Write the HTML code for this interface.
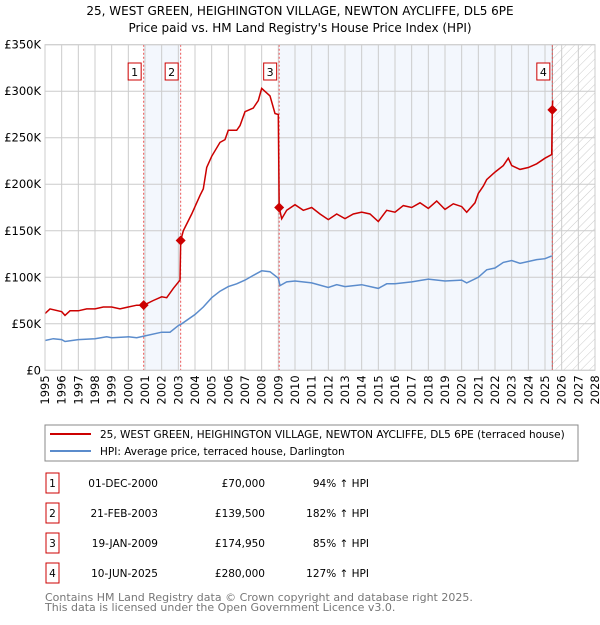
<!DOCTYPE html>
<html><head><meta charset="utf-8"><style>
body{margin:0;background:#fff;font-family:"Liberation Sans","DejaVu Sans",sans-serif;}
svg text{font-family:"DejaVu Sans","Liberation Sans",sans-serif;}
</style></head><body>
<svg id="c" width="600" height="620" xmlns="http://www.w3.org/2000/svg">
<defs><pattern id="hatch" width="6" height="6" patternUnits="userSpaceOnUse" patternTransform="rotate(45)"><line x1="0" y1="0" x2="0" y2="6" stroke="#ccc" stroke-width="1"/></pattern></defs>
<text x="300" y="15" text-anchor="middle" font-size="12">25, WEST GREEN, HEIGHINGTON VILLAGE, NEWTON AYCLIFFE, DL5 6PE</text>
<text x="300" y="32" text-anchor="middle" font-size="12">Price paid vs. HM Land Registry's House Price Index (HPI)</text>
<g id="plot"></g>
<rect x="45" y="425" width="533" height="36" fill="none" stroke="#888"/>
<line x1="50" y1="434" x2="91" y2="434" stroke="#cc0000" stroke-width="2"/>
<text x="100" y="438" font-size="10.5">25, WEST GREEN, HEIGHINGTON VILLAGE, NEWTON AYCLIFFE, DL5 6PE (terraced house)</text>
<line x1="50" y1="451" x2="91" y2="451" stroke="#5b8ccc" stroke-width="2"/>
<text x="100" y="455" font-size="10.5">HPI: Average price, terraced house, Darlington</text>
<g id="table" font-size="10.5"></g>
<text x="45" y="601" font-size="11" fill="#777">Contains HM Land Registry data © Crown copyright and database right 2025.</text>
<text x="45" y="611" font-size="11" fill="#777">This data is licensed under the Open Government Licence v3.0.</text>
</svg>
<script>
const yTicks=[0,50,100,150,200,250,300,350];
const yTickLabels=["£0","£50K","£100K","£150K","£200K","£250K","£300K","£350K"];
const years=[1995,1996,1997,1998,1999,2000,2001,2002,2003,2004,2005,2006,2007,2008,2009,2010,2011,2012,2013,2014,2015,2016,2017,2018,2019,2020,2021,2022,2023,2024,2025,2026,2027,2028];
const saleT=[2000.92,2003.14,2009.05,2025.44];
const saleV=[70,139.5,174.95,280];
const saleLabels=["1","2","3","4"];
const saleDates=["01-DEC-2000","21-FEB-2003","19-JAN-2009","10-JUN-2025"];
const salePrices=["£70,000","£139,500","£174,950","£280,000"];
const saleHpi=["94% ↑ HPI","182% ↑ HPI","85% ↑ HPI","127% ↑ HPI"];
const priceT=[1995,1995.3,1996,1996.2,1996.5,1997,1997.5,1998,1998.5,1999,1999.5,2000,2000.5,2000.92,2001.5,2002,2002.3,2002.7,2003.1,2003.14,2003.3,2003.8,2004.3,2004.5,2004.7,2005,2005.5,2005.8,2006,2006.5,2006.7,2007,2007.5,2007.8,2008,2008.5,2008.8,2009.0,2009.05,2009.2,2009.5,2010,2010.5,2011,2011.5,2012,2012.5,2013,2013.5,2014,2014.5,2015,2015.5,2016,2016.5,2017,2017.5,2018,2018.5,2019,2019.5,2020,2020.3,2020.8,2021,2021.3,2021.5,2022,2022.5,2022.8,2023,2023.5,2024,2024.5,2025,2025.4,2025.44,2025.46];
const priceV=[61,66,63,59,64,64,66,66,68,68,66,68,70,70,75,79,78,88,97,139.5,150,168,188,195,218,230,245,248,258,258,263,278,282,290,303,295,276,275,175,163,172,178,172,175,168,162,168,163,168,170,168,160,172,170,177,175,180,174,182,173,179,176,170,180,190,198,205,213,220,228,220,216,218,222,228,232,280,290];
const hpiT=[1995,1995.5,1996,1996.2,1997,1998,1998.7,1999,2000,2000.5,2001,2002,2002.5,2003,2003.2,2004,2004.5,2005,2005.5,2006,2006.5,2007,2007.5,2008,2008.5,2009,2009.1,2009.5,2010,2011,2012,2012.5,2013,2014,2015,2015.5,2016,2017,2018,2019,2020,2020.3,2021,2021.5,2022,2022.5,2023,2023.5,2024,2024.5,2025,2025.4];
const hpiV=[32,34,33,31,33,34,36,35,36,35,37,41,41,48,50,60,68,78,85,90,93,97,102,107,106,99,91,95,96,94,89,92,90,92,88,93,93,95,98,96,97,94,100,108,110,116,118,115,117,119,120,123];

const L=45,R=595,T=44.7,B=370.3;
const X=t=>L+(t-1995)/(2028-1995)*(R-L);
const Y=v=>B-v/350*(B-T);
const NS="http://www.w3.org/2000/svg";
const plot=document.getElementById('plot');
function mk(tag,attrs,parent){const e=document.createElementNS(NS,tag);for(const k in attrs)e.setAttribute(k,attrs[k]);(parent||plot).appendChild(e);return e;}
let e;
e=mk('rect',{x:X(saleT[0]),y:T,width:X(saleT[1])-X(saleT[0]),height:B-T,fill:'#eef3fc',opacity:0.7});


e=mk('rect',{x:X(saleT[2]),y:T,width:X(saleT[3])-X(saleT[2]),height:B-T,fill:'#eef3fc',opacity:0.7});


e=mk('rect',{x:X(saleT[3]),y:T,width:R-X(saleT[3]),height:B-T,fill:'url(#hatch)'});


years.forEach(y=>{
 e=mk('line',{x1:X(y),x2:X(y),y1:T,y2:B,stroke:'#ccc','stroke-width':1});
 
 
 const tx=X(y)+4,ty=B+5;
 e=mk('text',{x:tx,y:ty,transform:`rotate(-90 ${tx} ${ty})`,'text-anchor':'end','font-size':11.5});
 e.textContent=y;
 
 
});
yTicks.forEach((v,i)=>{
 e=mk('line',{x1:L,x2:R,y1:Y(v),y2:Y(v),stroke:'#ccc','stroke-width':1});
 
 
 e=mk('text',{x:L-4,y:Y(v)+4,'text-anchor':'end','font-size':11.5});
 e.textContent=yTickLabels[i];
 
 
});
e=mk('line',{x1:X(saleT[3]),x2:X(saleT[3]),y1:T,y2:B,stroke:'#888','stroke-width':1});


saleT.forEach((t,i)=>{
 e=mk('line',{x1:X(t),x2:X(t),y1:T,y2:B,stroke:'#e55','stroke-width':1,'stroke-dasharray':'2,2'});
 
 
});
const path=(ts,vs)=>ts.map((t,i)=>(i?'L':'M')+X(t).toFixed(1)+','+Y(vs[i]).toFixed(1)).join('');
e=mk('path',{d:path(hpiT,hpiV),fill:'none',stroke:'#5b8ccc','stroke-width':1.5});


e=mk('path',{d:path(priceT,priceV),fill:'none',stroke:'#cc0000','stroke-width':1.5});


saleT.forEach((t,i)=>{
 const cx=X(t),cy=Y(saleV[i]);
 e=mk('path',{d:`M${cx-5},${cy}L${cx},${cy-5}L${cx+5},${cy}L${cx},${cy+5}Z`,fill:'#cc0000'});
 
 
 const bx=cx-14.5,by=63;
 e=mk('rect',{x:bx-1,y:by,width:13,height:17,fill:'#fff',stroke:'#cc0000'});
 
 
 e=mk('text',{x:bx+5.5,y:by+13,'text-anchor':'middle','font-size':11});
 e.textContent=saleLabels[i];
 
 
});
e=mk('rect',{x:L,y:T,width:R-L,height:B-T,fill:'none',stroke:'#ccc'});


const tbl=document.getElementById('table');
saleT.forEach((t,i)=>{
 const cy=483+i*30;
 e=mk('rect',{x:46,y:cy-10,width:13,height:20,fill:'#fff',stroke:'#cc0000'},tbl);
 
 
 e=mk('text',{x:52.5,y:cy+4,'text-anchor':'middle'},tbl);e.textContent=saleLabels[i];
 
 
 e=mk('text',{x:158,y:cy+4,'text-anchor':'end'},tbl);e.textContent=saleDates[i];
 
 
 e=mk('text',{x:265,y:cy+4,'text-anchor':'end'},tbl);e.textContent=salePrices[i];
 
 
 e=mk('text',{x:369,y:cy+4,'text-anchor':'end'},tbl);e.textContent=saleHpi[i];
 
 
});
</script>
</body></html>
